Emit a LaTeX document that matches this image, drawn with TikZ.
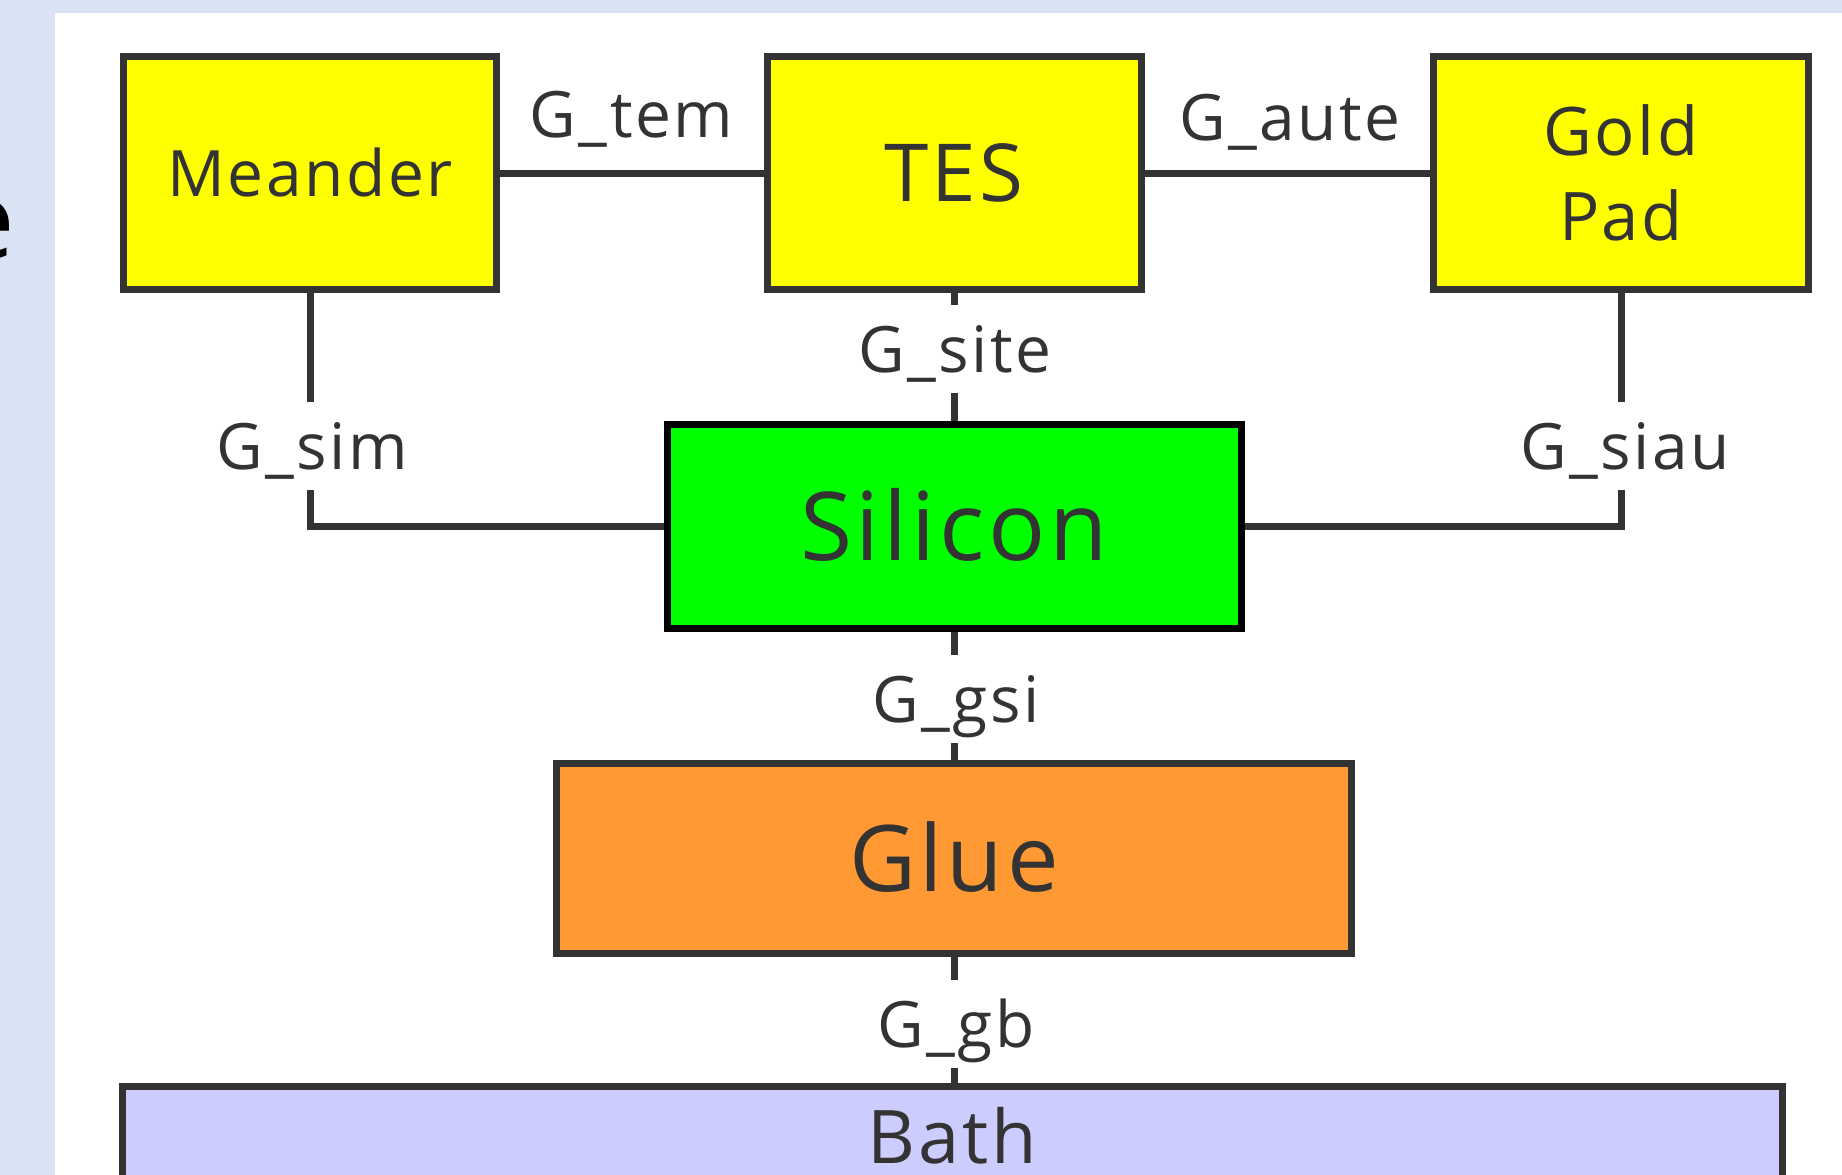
\documentclass[tikz,border=0pt]{standalone}
\usepackage{fontspec}
\setmainfont[LetterSpace=4]{Open Sans}
\definecolor{edge}{HTML}{333333}
\definecolor{panel}{HTML}{DAE3F3}
\definecolor{padyellow}{HTML}{FFFF00}
\definecolor{sigreen}{HTML}{00FF00}
\definecolor{glueorange}{HTML}{FF9933}
\definecolor{bathblue}{HTML}{CCCCFF}
\begin{document}
\begin{tikzpicture}[x=1pt,y=-1pt,
  box/.style={draw=edge, line width=7pt, text=edge, inner sep=0pt},
  conn/.style={draw=edge, line width=7pt},
  lab/.style={fill=white, text=edge, inner xsep=3pt, inner ysep=21pt,
    anchor=base, font=\fontsize{64}{64}\selectfont,
    text height=46pt, text depth=0pt}]
% page background and white sheet
\fill[panel] (0,0) rectangle (1842,1175);
\fill[white] (55,13) rectangle (1842,1175);
\useasboundingbox (0,0) rectangle (1842,1175);
\node[anchor=base east, inner sep=0pt, font=\fontsize{108}{108}\selectfont] (cut) at (15,258) {e};

% layers
\node[box, fill=padyellow, minimum width=373pt, minimum height=233pt,
  font=\fontsize{64}{64}\selectfont, text height=46pt, text depth=0pt]
  (meander) at (310,173) {Meander};
\node[box, fill=padyellow, minimum width=374pt, minimum height=233pt,
  font=\fontsize{80}{80}\selectfont, text height=57pt, text depth=0pt]
  (tes) at (954,173) {TES};
\node[box, fill=padyellow, minimum width=375pt, minimum height=233pt,
  font=\fontsize{67}{85}\selectfont, align=center]
  (gold) at (1621,173) {Gold\\Pad};
\node[box, draw=black, fill=sigreen, minimum width=574pt, minimum height=204pt,
  font=\fontsize{95}{95}\selectfont, text height=68pt, text depth=0pt]
  (si) at (954,526.5) {Silicon};
\node[box, fill=glueorange, minimum width=795pt, minimum height=190pt,
  font=\fontsize{92}{92}\selectfont, text height=66pt, text depth=0pt]
  (glue) at (954,858.5) {Glue};
\node[box, fill=bathblue, minimum width=1660pt, minimum height=100pt,
  font=\fontsize{74}{74}\selectfont, text height=53pt, text depth=0pt]
  (bath) at (952.5,1136.5) {Bath};

% thermal links
\draw[conn] (meander.east) -- (tes.west);
\draw[conn] (tes.east) -- (gold.west);
\draw[conn] (meander.south) |- (si.west);
\draw[conn] (gold.south) |- (si.east);
\draw[conn] (tes.south) -- (tes.south |- si.north);
\draw[conn] (si.south) -- (si.south |- glue.north);
\draw[conn] (glue.south) -- (glue.south |- bath.north);

% conductance labels
\node[lab] (gtem) at (631.5,137) {G\_tem};
\node[lab] (gaute) at (1290,140) {G\_aute};
\node[lab] (gsite) at (955,372) {G\_site};
\node[lab] (gsim) at (312,469) {G\_sim};
\node[lab] (gsiau) at (1625,469) {G\_siau};
\node[lab] (ggsi) at (956,722) {G\_gsi};
\node[lab] (ggb) at (956,1047) {G\_gb};
\end{tikzpicture}
\end{document}
